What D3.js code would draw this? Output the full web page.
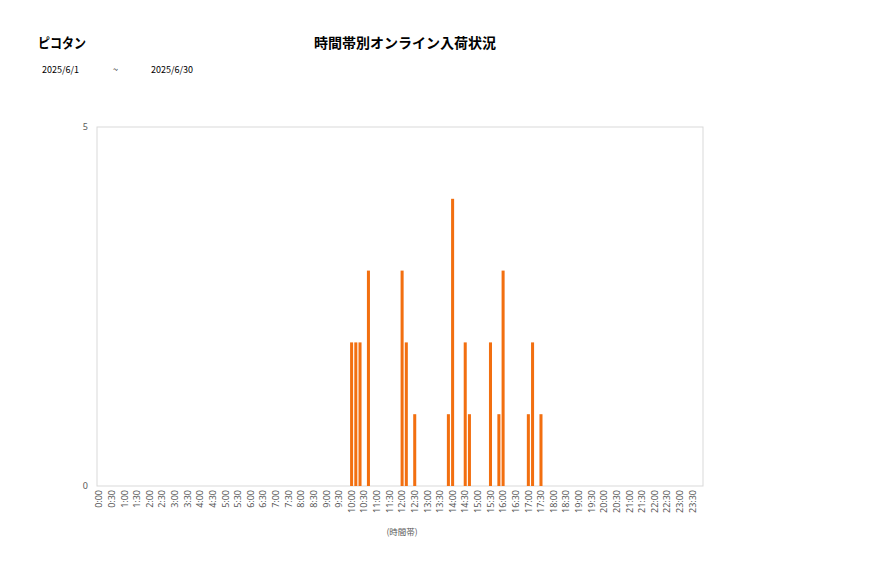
<!DOCTYPE html>
<html><head><meta charset="utf-8">
<script src="https://cdn.jsdelivr.net/npm/d3@7"></script>
<style>body{margin:0;background:#fff;font-family:"Noto Sans CJK JP","Noto Sans",sans-serif;}</style>
</head><body><svg id="c" width="877" height="578"></svg>
<script>
const storeName = "ピコタン";
const chartTitle = "時間帯別オンライン入荷状況";
const dateFrom = "2025/6/1";
const dateTo = "2025/6/30";
const axisTitle = "(時間帯)";
// 10-minute slots, values only where non-zero
const slotTimes = ["10:00","10:10","10:20","10:40","12:00","12:10","12:30","13:50","14:00","14:30","14:40","15:30","15:50","16:00","17:00","17:10","17:30"];
const slotValues = [2,2,2,3,3,2,1,1,4,2,1,2,1,3,1,2,1];
const yTicks = [0,5];

const categories = [];
for (let h=0; h<24; h++) for (let m=0; m<60; m+=10) categories.push(h+":"+String(m).padStart(2,"0"));
const labelCats = categories.filter((d,i)=>i%3===0);
const valueMap = new Map(slotTimes.map((t,i)=>[t,slotValues[i]]));
const data = categories.map(c=>({c, v: valueMap.get(c)||0}));

const svg = d3.select("#c");
const L=97, R=703, T=127, B=486;
const x = d3.scaleBand().domain(categories).range([L,R]).paddingInner(0.28).paddingOuter(0.14);
const y = d3.scaleLinear().domain([0,5]).range([B,T]);

svg.append("rect").attr("x",L).attr("y",T).attr("width",R-L).attr("height",B-T)
  .attr("fill","none").attr("stroke","#d9d9d9").attr("stroke-width",1);

svg.append("g").selectAll("rect").data(data.filter(d=>d.v>0)).join("rect")
  .attr("x",d=>x(d.c)).attr("width",x.bandwidth())
  .attr("y",d=>y(d.v)).attr("height",d=>y(0)-y(d.v))
  .attr("fill","#f26f10");

const yAxis = svg.append("g").attr("transform",`translate(${L},0)`)
  .call(d3.axisLeft(y).tickValues(yTicks).tickFormat(d3.format("d")).tickSize(0).tickPadding(9));
yAxis.select(".domain").remove();
yAxis.selectAll("text").attr("font-size",9).attr("fill","#595959").attr("font-family","Noto Sans, sans-serif");

const xAxis = svg.append("g").attr("transform",`translate(0,${B})`)
  .call(d3.axisBottom(x).tickValues(labelCats).tickSize(0));
xAxis.select(".domain").remove();
xAxis.selectAll("text").attr("font-size",9).attr("fill","#595959").attr("font-family","Noto Sans, sans-serif")
  .attr("transform","rotate(-90)").attr("text-anchor","end").attr("dy","0.35em").attr("x",-4).attr("y",0);

svg.append("text").attr("x",402).attr("y",535).attr("text-anchor","middle")
  .attr("font-size",8.5).attr("fill","#595959").text(axisTitle);

svg.append("text").attr("x",38).attr("y",48).attr("font-size",14).attr("font-weight","bold").attr("fill","#000")
  .attr("textLength",48).attr("lengthAdjust","spacingAndGlyphs").text(storeName);
svg.append("text").attr("x",405).attr("y",48).attr("text-anchor","middle").attr("font-size",14).attr("font-weight","bold").attr("fill","#000").text(chartTitle);
svg.append("text").attr("x",42).attr("y",73).attr("font-size",9).attr("fill","#000").text(dateFrom);
svg.append("text").attr("x",113).attr("y",73).attr("font-size",9).attr("fill","#000").text("~");
svg.append("text").attr("x",151).attr("y",73).attr("font-size",9).attr("fill","#000").text(dateTo);
</script></body></html>
